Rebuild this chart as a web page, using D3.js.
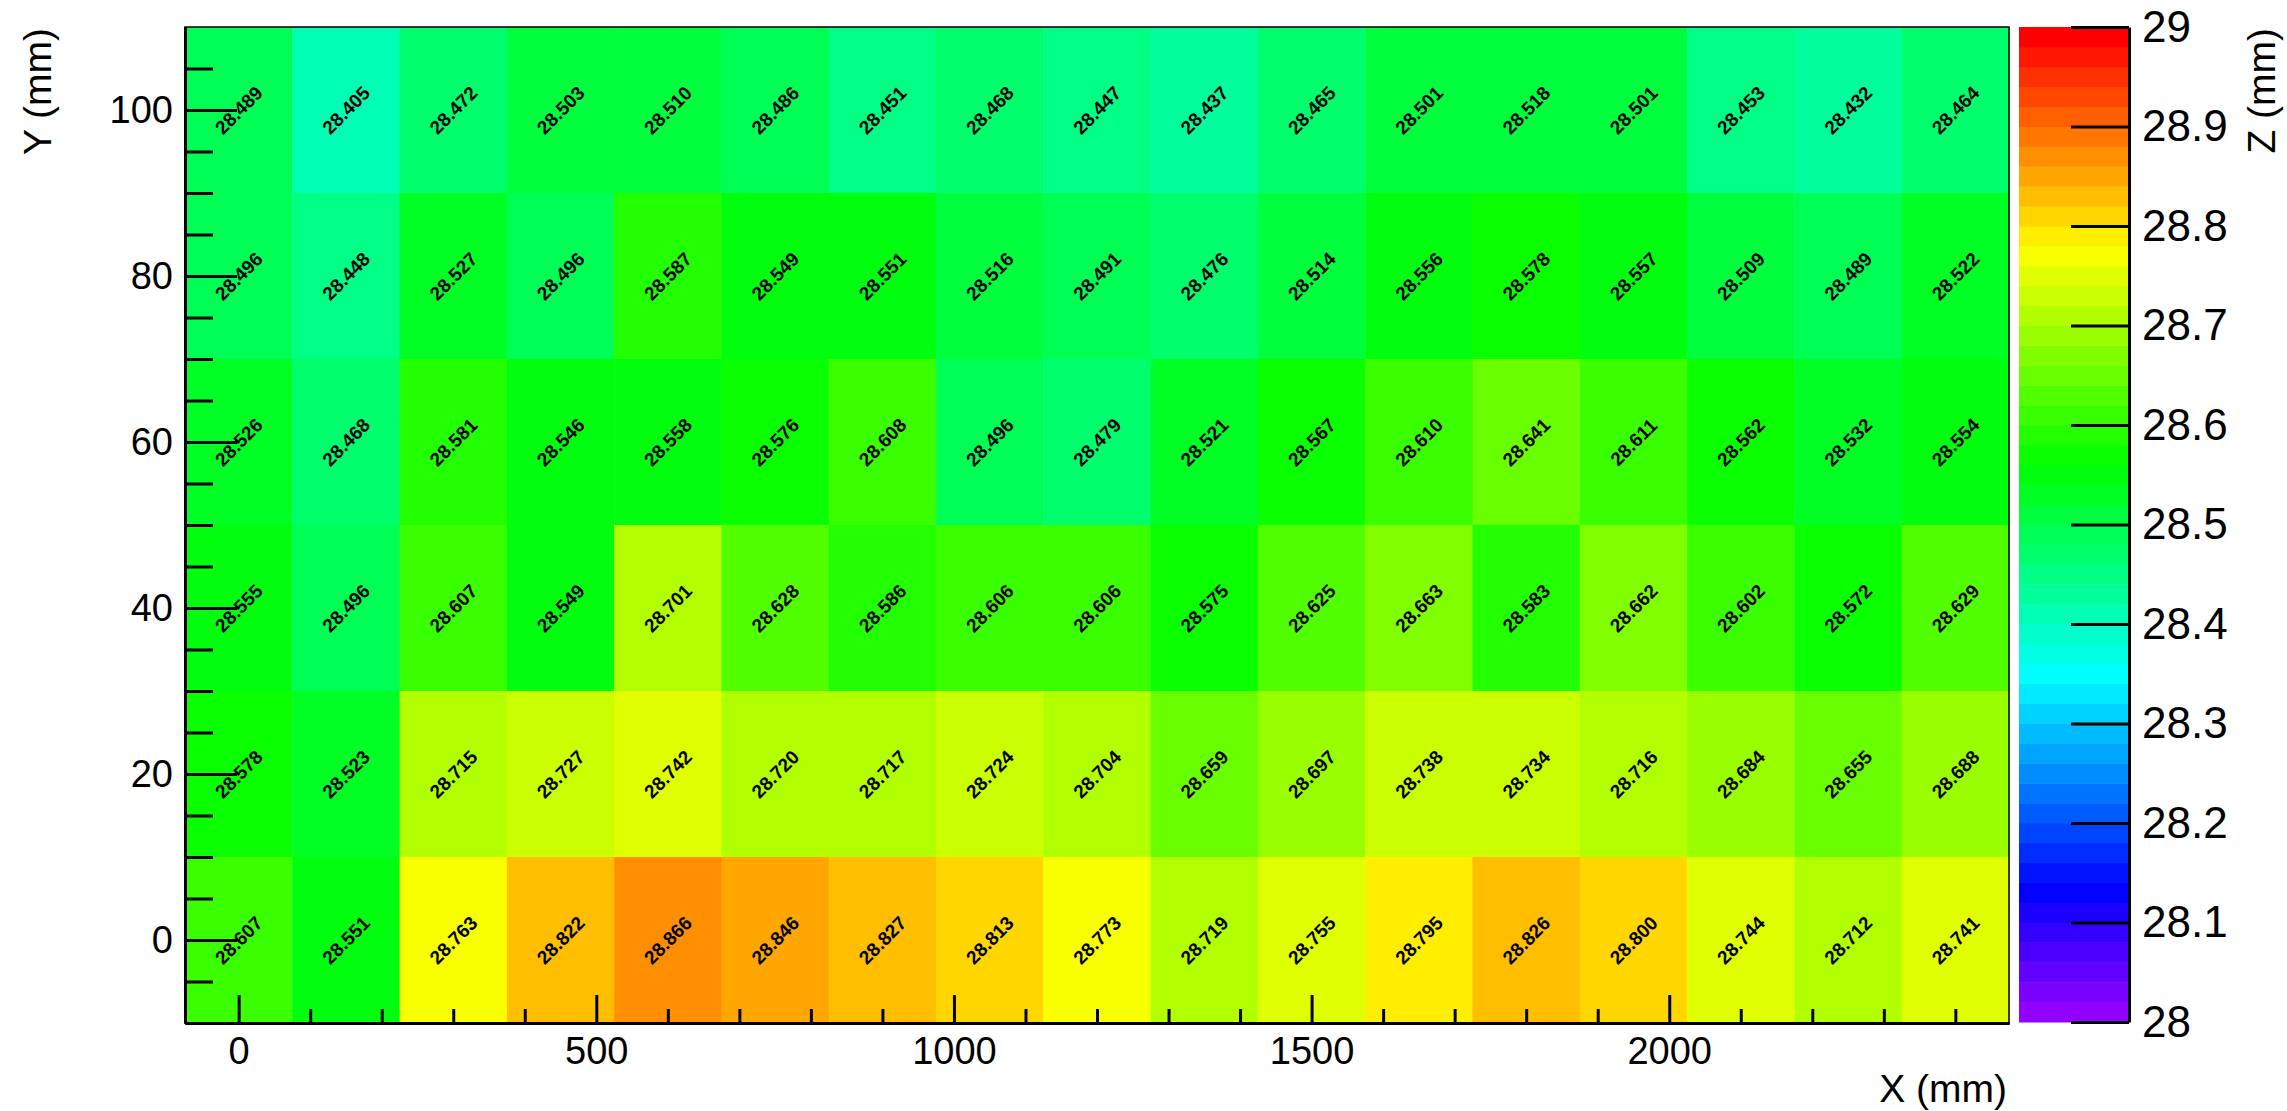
<!DOCTYPE html>
<html>
<head>
<meta charset="utf-8">
<script src="https://cdn.jsdelivr.net/npm/d3@7"></script>
<style>
	body { margin: 0; background: #ffffff; }
	text { font-family: "Liberation Sans", Arial, Helvetica, sans-serif; }
</style>
</head>
<body>
<svg class="map" width="2287" height="1111"></svg>
<script>
// bin centres of the scan (mm)
var xCenters = [ 0, 150, 300, 450, 600, 750, 900, 1050, 1200, 1350, 1500, 1650, 1800, 1950, 2100, 2250, 2400 ];
var yCenters = [ 100, 80, 60, 40, 20, 0 ];

// measured Z (mm), one list per row, top row first
var zRow100 = [ 28.489, 28.405, 28.472, 28.503, 28.510, 28.486, 28.451, 28.468, 28.447, 28.437, 28.465, 28.501, 28.518, 28.501, 28.453, 28.432, 28.464 ];
var zRow80  = [ 28.496, 28.448, 28.527, 28.496, 28.587, 28.549, 28.551, 28.516, 28.491, 28.476, 28.514, 28.556, 28.578, 28.557, 28.509, 28.489, 28.522 ];
var zRow60  = [ 28.526, 28.468, 28.581, 28.546, 28.558, 28.576, 28.608, 28.496, 28.479, 28.521, 28.567, 28.610, 28.641, 28.611, 28.562, 28.532, 28.554 ];
var zRow40  = [ 28.555, 28.496, 28.607, 28.549, 28.701, 28.628, 28.586, 28.606, 28.606, 28.575, 28.625, 28.663, 28.583, 28.662, 28.602, 28.572, 28.629 ];
// 28.720 is drawn in the 28.70 colour band, so it sits just under 28.72
var zRow20  = [ 28.578, 28.523, 28.715, 28.727, 28.742, 28.7199, 28.717, 28.724, 28.704, 28.659, 28.697, 28.738, 28.734, 28.716, 28.684, 28.655, 28.688 ];
var zRow0   = [ 28.607, 28.551, 28.763, 28.822, 28.866, 28.846, 28.827, 28.813, 28.773, 28.719, 28.755, 28.795, 28.826, 28.800, 28.744, 28.712, 28.741 ];
var zRows = [ zRow100, zRow80, zRow60, zRow40, zRow20, zRow0 ];

// tick labels
var xTicks = [ 0, 500, 1000, 1500, 2000 ];
var yTicks = [ 0, 20, 40, 60, 80, 100 ];
var zTicks = [ 28, 28.1, 28.2, 28.3, 28.4, 28.5, 28.6, 28.7, 28.8, 28.9, 29 ];

var binW = 150, binH = 20;
var zMin = 28, zMax = 29, nLevels = 50;

var svg = d3.select( ".map" );

// scales
var x = d3.scaleLinear()
	.domain( [ xCenters[0] - binW / 2, xCenters[ xCenters.length - 1 ] + binW / 2 ] )
	.range( [ 185, 2009 ] );
var y = d3.scaleLinear()
	.domain( [ -10, 110 ] )
	.range( [ 1023, 27 ] );
var z = d3.scaleLinear()
	.domain( [ zMin, zMax ] )
	.range( [ 1022, 27 ] );

// 50 colour palette, violet -> red
var paletteColors = d3.range( nLevels ).map( function( k ) {
	return d3.hsl( 280 - ( k + 1 ) * 280 / nLevels, 1, 0.5 ).formatHex();
} );
var levels = d3.range( 1, nLevels ).map( function( k ) { return zMin + k * ( zMax - zMin ) / nLevels; } );
var color = d3.scaleThreshold()
	.domain( levels )
	.range( paletteColors );

// flatten cells
var cells = [];
for ( var r = 0; r < yCenters.length; r++ ) {
	for ( var c = 0; c < xCenters.length; c++ ) {
		cells.push( { x: xCenters[c], y: yCenters[r], z: zRows[r][c] } );
	}
}

// make cells
svg.append( "g" )
	.attr( "class", "cells" )
	.selectAll( "rect" )
	.data( cells )
	.enter()
	.append( "rect" )
		.attr( "x", function( d ) { return x( d.x - binW / 2 ); } )
		.attr( "y", function( d ) { return y( d.y + binH / 2 ); } )
		.attr( "width", function( d ) { return x( d.x + binW / 2 ) - x( d.x - binW / 2 ) + 0.5; } )
		.attr( "height", function( d ) { return y( d.y - binH / 2 ) - y( d.y + binH / 2 ) + 0.5; } )
		.style( "fill", function( d ) { return color( d.z ); } );

// frame
svg.append( "rect" )
	.attr( "x", x.range()[0] )
	.attr( "y", y.range()[1] )
	.attr( "width", x.range()[1] - x.range()[0] )
	.attr( "height", y.range()[0] - y.range()[1] )
	.style( "fill", "none" )
	.style( "stroke", "#000" )
	.style( "stroke-width", 1.5 );

// axes
var yMinor = d3.range( -5, 110, 5 ).filter( function( v ) { return v % 20 !== 0; } );
var xMinor = d3.range( 0, 2475, 100 ).filter( function( v ) { return v % 500 !== 0; } );

svg.append( "g" )
	.attr( "class", "axis yminor" )
	.attr( "transform", "translate(" + x.range()[0] + ",0)" )
	.call( d3.axisLeft( y ).tickValues( yMinor ).tickSizeInner( -28 ).tickSizeOuter( 0 ).tickFormat( "" ) );
svg.append( "g" )
	.attr( "class", "axis ymajor" )
	.attr( "transform", "translate(" + x.range()[0] + ",0)" )
	.call( d3.axisLeft( y ).tickValues( yTicks ).tickSizeInner( -52 ).tickSizeOuter( 0 ).tickPadding( 12 ).tickFormat( d3.format( "d" ) ) );

svg.append( "g" )
	.attr( "class", "axis xminor" )
	.attr( "transform", "translate(0," + y.range()[0] + ")" )
	.call( d3.axisBottom( x ).tickValues( xMinor ).tickSizeInner( -14 ).tickSizeOuter( 0 ).tickFormat( "" ) );
svg.append( "g" )
	.attr( "class", "axis xmajor" )
	.attr( "transform", "translate(0," + y.range()[0] + ")" )
	.call( d3.axisBottom( x ).tickValues( xTicks ).tickSizeInner( -28 ).tickSizeOuter( 0 ).tickPadding( 14 ).tickFormat( d3.format( "d" ) ) );

svg.selectAll( ".axis path, .axis line" )
	.style( "stroke", "#000" )
	.style( "stroke-width", 3 );
svg.selectAll( ".axis text" )
	.style( "font-size", "38px" )
	.style( "fill", "#000" );

// cell values, rotated 45 deg
svg.append( "g" )
	.attr( "class", "values" )
	.selectAll( "text" )
	.data( cells )
	.enter()
	.append( "text" )
		.attr( "transform", function( d ) { return "translate(" + x( d.x ) + "," + y( d.y ) + ") rotate(-45)"; } )
		.attr( "text-anchor", "middle" )
		.attr( "dy", "0.36em" )
		.style( "font-size", "19px" )
		.style( "font-weight", "bold" )
		.style( "fill", "#000" )
		.text( function( d ) { return d3.format( ".3f" )( d.z ); } );

// make palette
var palette = svg.append( "g" ).attr( "class", "palette" );
palette.selectAll( "rect" )
	.data( paletteColors )
	.enter()
	.append( "rect" )
		.attr( "x", 2019 )
		.attr( "y", function( d, i ) { return z( zMin + ( i + 1 ) * ( zMax - zMin ) / nLevels ); } )
		.attr( "width", 110 )
		.attr( "height", function( d, i ) { return z( zMin + i * ( zMax - zMin ) / nLevels ) - z( zMin + ( i + 1 ) * ( zMax - zMin ) / nLevels ) + 0.5; } )
		.style( "fill", function( d ) { return d; } );

palette.append( "g" )
	.attr( "class", "zaxis" )
	.attr( "transform", "translate(2129,0)" )
	.call( d3.axisRight( z ).tickValues( zTicks ).tickSizeInner( -58 ).tickSizeOuter( 0 ).tickPadding( 13 )
		.tickFormat( function( d ) { return String( +d.toFixed( 1 ) ); } ) );
palette.selectAll( ".zaxis path, .zaxis line" )
	.style( "stroke", "#000" )
	.style( "stroke-width", 3 );
palette.selectAll( ".zaxis text" )
	.style( "font-size", "44px" )
	.style( "fill", "#000" );

// axis titles
svg.append( "text" )
	.attr( "x", 2007 )
	.attr( "y", 1102 )
	.attr( "text-anchor", "end" )
	.style( "font-size", "39px" )
	.text( "X (mm)" );
svg.append( "text" )
	.attr( "transform", "translate(51,28) rotate(-90)" )
	.attr( "text-anchor", "end" )
	.style( "font-size", "39px" )
	.text( "Y (mm)" );
svg.append( "text" )
	.attr( "transform", "translate(2275,28) rotate(-90)" )
	.attr( "text-anchor", "end" )
	.style( "font-size", "39px" )
	.text( "Z (mm)" );
</script>
</body>
</html>
